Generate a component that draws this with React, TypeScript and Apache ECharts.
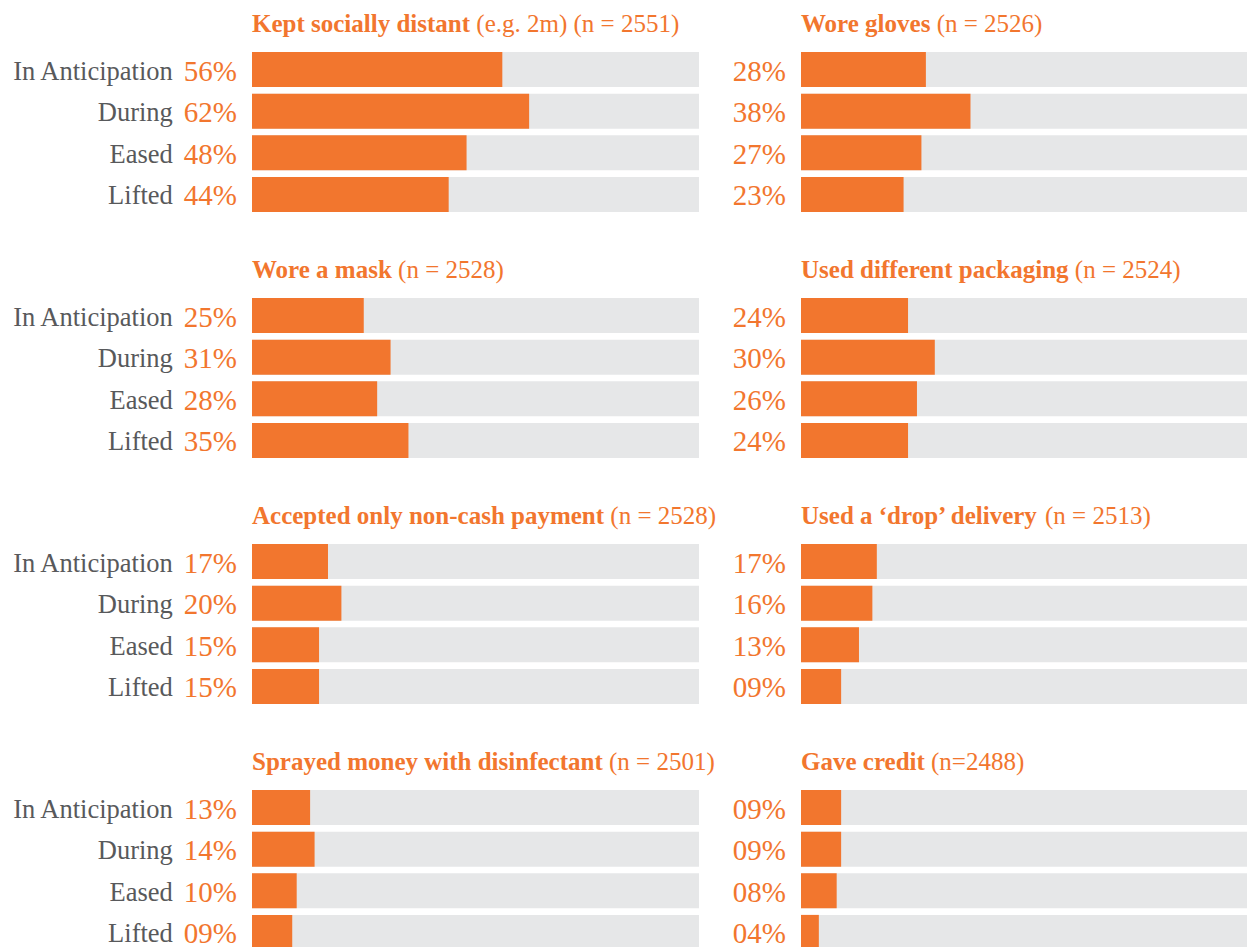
import React, { useEffect, useRef } from "react";
import * as echarts from "echarts";

const categories = ["In Anticipation", "During", "Eased", "Lifted"];

const titlesBold = [
  "Kept socially distant",
  "Wore gloves",
  "Wore a mask",
  "Used different packaging",
  "Accepted only non-cash payment",
  "Used a \u2018drop\u2019 delivery",
  "Sprayed money with disinfectant",
  "Gave credit",
];
const titlesRest = [
  " (e.g. 2m) (n = 2551)",
  " (n = 2526)",
  " (n = 2528)",
  " (n = 2524)",
  " (n = 2528)",
  " (n = 2513)",
  " (n = 2501)",
  " (n=2488)",
];

const keptDistant = [56, 62, 48, 44];
const woreGloves = [28, 38, 27, 23];
const woreMask = [25, 31, 28, 35];
const diffPackaging = [24, 30, 26, 24];
const nonCash = [17, 20, 15, 15];
const dropDelivery = [17, 16, 13, 9];
const sprayedMoney = [13, 14, 10, 9];
const gaveCredit = [9, 9, 8, 4];

const panels = [
  keptDistant,
  woreGloves,
  woreMask,
  diffPackaging,
  nonCash,
  dropDelivery,
  sprayedMoney,
  gaveCredit,
];

const ORANGE = "#F2762E";
const GREY_BG = "#E6E7E8";
const TEXT_GREY = "#58595B";
const FONT = "'Liberation Serif', 'DejaVu Serif', serif";

const pad2 = (v: number) => (v < 10 ? "0" + v : "" + v) + "%";

export default function App() {
  const ref = useRef<HTMLDivElement>(null);

  useEffect(() => {
    if (!ref.current) return;
    const chart = echarts.init(ref.current, undefined, { renderer: "svg" });

    const colLeft = [252, 801];
    const colWidth = [447, 446];
    const rowPitch = 246;
    const gridTop0 = 48.7;
    const gridHeight = 166.5;

    const grids: any[] = [];
    const xAxes: any[] = [];
    const yAxes: any[] = [];
    const series: any[] = [];
    const titles: any[] = [];

    panels.forEach((vals, i) => {
      const col = i % 2;
      const row = Math.floor(i / 2);
      const top = gridTop0 + row * rowPitch;
      grids.push({
        left: colLeft[col],
        width: colWidth[col],
        top,
        height: gridHeight,
        containLabel: false,
      });
      xAxes.push({
        type: "value",
        gridIndex: i,
        min: 0,
        max: 100,
        show: false,
      });
      yAxes.push({
        type: "category",
        gridIndex: i,
        data: categories,
        inverse: true,
        axisLine: { show: false },
        axisTick: { show: false },
        splitLine: { show: false },
        axisLabel: {
          margin: 15,
          formatter: (_v: string, idx: number) =>
            col === 0
              ? `{c|${categories[idx]}}{p|${pad2(vals[idx])}}`
              : `{p|${pad2(vals[idx])}}`,
          rich: {
            c: {
              fontFamily: FONT,
              fontSize: 26.5,
              color: TEXT_GREY,
              padding: [2, 11, 0, 0],
            },
            p: {
              fontFamily: FONT,
              fontSize: 29,
              color: ORANGE,
              padding: [2, 0, 0, 0],
            },
          },
        },
      });
      series.push({
        type: "bar",
        xAxisIndex: i,
        yAxisIndex: i,
        data: vals,
        barWidth: 35,
        itemStyle: { color: ORANGE },
        showBackground: true,
        backgroundStyle: { color: GREY_BG },
        silent: true,
      });
      titles.push({
        left: colLeft[col],
        top: top - 38,
        text: `{b|${titlesBold[i]}}{n|${titlesRest[i]}}`,
        textStyle: {
          rich: {
            b: {
              fontFamily: FONT,
              fontSize: 25,
              fontWeight: "bold",
              color: ORANGE,
            },
            n: {
              fontFamily: FONT,
              fontSize: 25,
              fontWeight: "normal",
              color: ORANGE,
            },
          },
        },
        padding: 0,
      });
    });

    chart.setOption({
      animation: false,
      backgroundColor: "#ffffff",
      title: titles,
      grid: grids,
      xAxis: xAxes,
      yAxis: yAxes,
      series,
    });

    return () => chart.dispose();
  }, []);

  return (
    <div
      ref={ref}
      style={{ position: "fixed", left: 0, top: 0, width: 1247, height: 956 }}
    />
  );
}
